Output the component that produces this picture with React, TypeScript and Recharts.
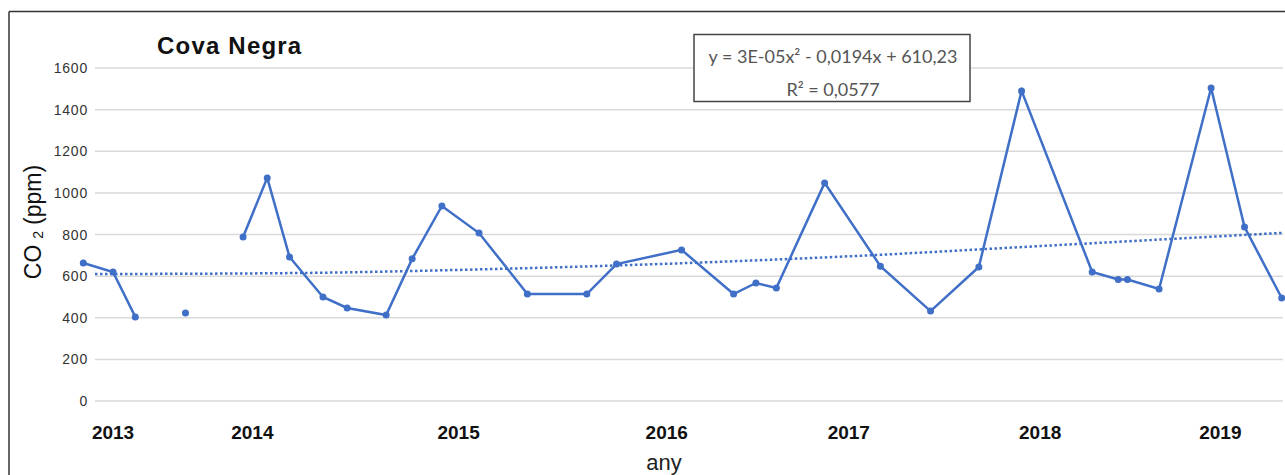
import React from 'react';
import { ComposedChart, Line, XAxis, YAxis, ReferenceLine } from 'recharts';

// sampling dates (decimal years) and CO2 readings
const SAMPLE_DATES = [
  2012.84, 2013.0, 2013.12, 2013.39, 2013.7, 2013.83, 2013.95, 2014.13, 2014.26, 2014.47, 2014.61,
  2014.77, 2014.97, 2015.23, 2015.55, 2015.71, 2016.06, 2016.34, 2016.46, 2016.57, 2016.83, 2017.13,
  2017.4, 2017.66, 2017.89, 2018.27, 2018.41, 2018.46, 2018.63, 2018.91, 2019.09, 2019.29,
];
const SAMPLE_CO2 = [
  663, 620, 404, 423, 788, 1072, 692, 500, 447, 413, 683, 937, 807, 514, 514, 658, 726, 514, 567, 543,
  1048, 648, 432, 644, 1490, 620, 584, 584, 538, 1504, 836, 495,
];
// which connected run each sample belongs to (the series has gaps)
const SAMPLE_RUN = [0, 0, 0, 1, 2, 2, 2, 2, 2, 2, 2, 2, 2, 2, 2, 2, 2, 2, 2, 2, 2, 2, 2, 2, 2, 2, 2, 2, 2, 2, 2, 2];

// polynomial trend line, sampled from the figure
const TREND_DATES = [2012.903, 2014.0, 2015.0, 2016.0, 2017.0, 2018.0, 2019.297];
const TREND_CO2 = [610, 615, 633, 660, 697, 745, 808];

const YEAR_TICKS = [2013.0, 2013.75, 2014.86, 2015.98, 2016.96, 2017.99, 2018.96];
const YEAR_LABELS = ['2013', '2014', '2015', '2016', '2017', '2018', '2019'];
const Y_TICKS = [0, 200, 400, 600, 800, 1000, 1200, 1400, 1600];

const X_MIN = 2012.833;
const X_MAX = 2019.297;
const GRID_START = 2012.903;

const BLUE = '#3F6FC6';
const FONT = '"Liberation Sans", Arial, Helvetica, sans-serif';

const runs: { t: number; co2: number }[][] = [];
SAMPLE_DATES.forEach((t, i) => {
  const r = SAMPLE_RUN[i];
  if (!runs[r]) runs[r] = [];
  runs[r].push({ t, co2: SAMPLE_CO2[i] });
});
const trend = TREND_DATES.map((t, i) => ({ t, co2: TREND_CO2[i] }));

const YTick = (props: any) => (
  <text x={88} y={props.y} textAnchor="end" dominantBaseline="central" fontFamily={FONT} fontSize={14} letterSpacing={0.8} fill="#333">
    {props.payload.value}
  </text>
);

const XTick = (props: any) => {
  const idx = YEAR_TICKS.indexOf(props.payload.value);
  return (
    <text x={props.x} y={432} textAnchor="middle" dominantBaseline="central" fontFamily={FONT} fontSize={19} fontWeight="bold" fill="#111">
      {YEAR_LABELS[idx]}
    </text>
  );
};

export default function App() {
  return (
    <div style={{ position: 'relative', width: 1285, height: 475, background: '#fff', overflow: 'hidden' }}>
      <style>{'html, body { margin: 0; padding: 0; overflow: hidden; }'}</style>
      <ComposedChart width={1285} height={475} margin={{ top: 68, right: 2, bottom: 44, left: 42 }}>
        <XAxis
          type="number"
          dataKey="t"
          domain={[X_MIN, X_MAX]}
          ticks={YEAR_TICKS}
          interval={0}
          height={30}
          axisLine={false}
          tickLine={false}
          tick={XTick}
        />
        <YAxis type="number" domain={[0, 1600]} ticks={Y_TICKS} width={40} axisLine={false} tickLine={false} tick={YTick} />
        {Y_TICKS.map((v) => (
          <ReferenceLine
            key={v}
            segment={[{ x: GRID_START, y: v }, { x: X_MAX, y: v }]}
            stroke="#d9d9d9"
            strokeWidth={1.5}
          />
        ))}
        <Line
          data={trend}
          dataKey="co2"
          type="monotone"
          stroke={BLUE}
          strokeWidth={2.5}
          strokeDasharray="2.5 2.5"
          dot={false}
          activeDot={false}
          isAnimationActive={false}
        />
        {runs.map((run, i) => (
          <Line
            key={i}
            data={run}
            dataKey="co2"
            type="linear"
            stroke={BLUE}
            strokeWidth={2.5}
            dot={{ r: 3.5, fill: BLUE, stroke: 'none' }}
            activeDot={false}
            isAnimationActive={false}
          />
        ))}
      </ComposedChart>
      <svg width={1285} height={475} style={{ position: 'absolute', left: 0, top: 0, pointerEvents: 'none' }}>
        <line x1={9} y1={11.5} x2={9} y2={475} stroke="#333" strokeWidth={1.5} />
        <line x1={9} y1={11.5} x2={1285} y2={11.5} stroke="#333" strokeWidth={1.5} />
        <text x={157} y={54} fontFamily={FONT} fontSize={24} fontWeight="bold" letterSpacing={1.2} fill="#111">
          Cova Negra
        </text>
        <text
          x={33}
          y={222}
          transform="rotate(-90 33 222)"
          textAnchor="middle"
          dominantBaseline="central"
          fontFamily={FONT}
          fontSize={23}
          fill="#111"
        >
          CO
          <tspan dx={6} fontSize={14} dy={5}>2</tspan>
          <tspan dx={6} dy={-5}>(ppm)</tspan>
        </text>
        <text x={664} y={470} textAnchor="middle" fontFamily={FONT} fontSize={22} fill="#222">
          any
        </text>
        <rect x={694} y={34.5} width={276} height={67} fill="#fff" stroke="#444" strokeWidth={1.5} />
        <text x={833} y={63} textAnchor="middle" fontFamily="Lato, sans-serif" fontSize={18} fill="#555">
          y = 3E-05x² - 0,0194x + 610,23
        </text>
        <text x={833} y={96} textAnchor="middle" fontFamily="Lato, sans-serif" fontSize={18} fill="#555">
          R² = 0,0577
        </text>
      </svg>
    </div>
  );
}
